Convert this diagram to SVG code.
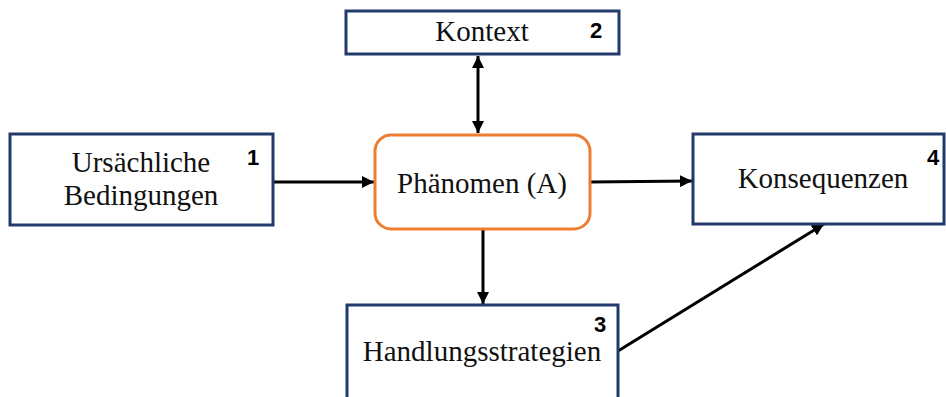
<svg xmlns="http://www.w3.org/2000/svg" width="946" height="397" viewBox="0 0 946 397">
<style>
.box{fill:#fff;stroke:#223a6b;stroke-width:3}
.ph{fill:#fff;stroke:#ed7d31;stroke-width:3}
.t{font-family:"Liberation Serif","Times New Roman",serif;font-size:29px;fill:#111;text-anchor:middle}
.n{font-family:"Liberation Sans",Arial,sans-serif;font-size:22px;font-weight:bold;fill:#000;text-anchor:middle}
.c{stroke:#000;stroke-width:3;fill:none}
</style>
<defs>
<marker id="ah" viewBox="0 0 10 10" refX="10" refY="5" markerWidth="4" markerHeight="4" orient="auto-start-reverse" markerUnits="strokeWidth">
<path d="M0,0 L10,5 L0,10 z" fill="#000"/>
</marker>
</defs>
<rect width="946" height="397" fill="#fff"/>
<g id="connectors">
<line class="c" x1="478" y1="56" x2="478" y2="133" marker-start="url(#ah)" marker-end="url(#ah)"/>
<line class="c" x1="273" y1="182" x2="374" y2="182" marker-end="url(#ah)"/>
<line class="c" x1="590" y1="182" x2="692" y2="181" marker-end="url(#ah)"/>
<line class="c" x1="483" y1="230" x2="483" y2="304" marker-end="url(#ah)"/>
<line class="c" x1="618" y1="351" x2="824" y2="224" marker-end="url(#ah)"/>
</g>
<g id="node-kontext">
<rect class="box" x="346" y="11" width="273" height="43"/>
<text class="t" x="482" y="41">Kontext</text>
<text class="n" x="596" y="38">2</text>
</g>
<g id="node-ursaechliche">
<rect class="box" x="10" y="134" width="263" height="91"/>
<text class="t" x="141" y="172">Ursächliche</text>
<text class="t" x="141" y="205">Bedingungen</text>
<text class="n" x="253" y="165">1</text>
</g>
<g id="node-phaenomen">
<rect class="ph" x="375" y="135" width="215" height="94" rx="16" ry="16"/>
<text class="t" x="482" y="193">Phänomen (A)</text>
</g>
<g id="node-konsequenzen">
<rect class="box" x="693" y="134" width="251" height="90"/>
<text class="t" x="823" y="188">Konsequenzen</text>
<text class="n" x="933" y="165">4</text>
</g>
<g id="node-handlung">
<rect class="box" x="347" y="305" width="271" height="96"/>
<text class="t" x="482" y="361">Handlungsstrategien</text>
<text class="n" x="600" y="332">3</text>
</g>
</svg>
